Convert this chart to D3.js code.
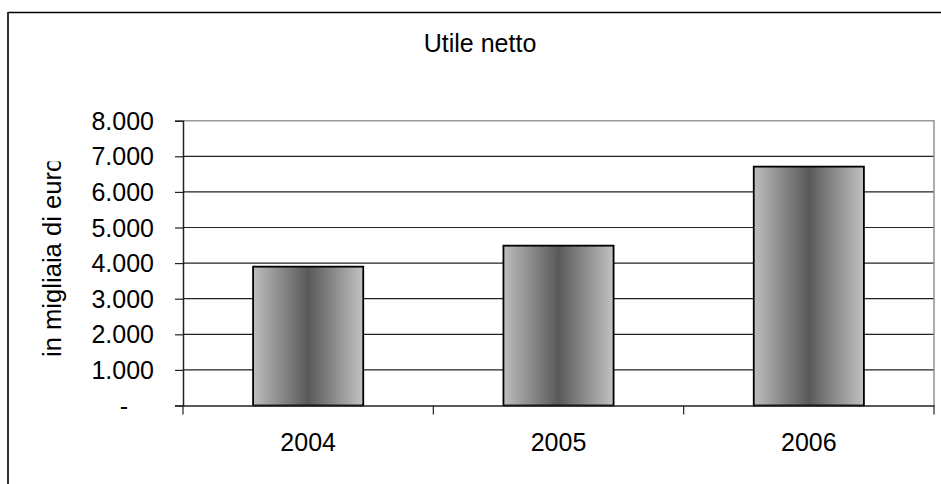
<!DOCTYPE html>
<html>
<head>
<meta charset="utf-8">
<script src="https://cdn.jsdelivr.net/npm/d3@7"></script>
<style>
  body { margin: 0; background: #fff; }
  svg { display: block; }
  text { font-family: "Liberation Sans", Arial, sans-serif; fill: #000; }
</style>
</head>
<body>
<svg id="chart" width="941" height="484"></svg>
<script>
// Net profit, thousands of euro
const years = ["2004", "2005", "2006"];
const utileNetto = [3900, 4490, 6710];
const yTicks = [0, 1000, 2000, 3000, 4000, 5000, 6000, 7000, 8000];
const titleText = "Utile netto";
const yAxisTitle = "in migliaia di euro";

const data = years.map((y, i) => ({ year: y, value: utileNetto[i] }));

const svg = d3.select("#chart");
const W = 941, H = 484;
const plot = { left: 183, right: 934, top: 120.7, bottom: 405.5 };
const fontPx = "25px";

// Italian number formatting: thousands separated by "."
const it = d3.formatLocale({ decimal: ",", thousands: ".", grouping: [3], currency: ["€", ""] });
const fmt = it.format(",.0f");

const x = d3.scaleBand().domain(years).range([plot.left, plot.right]).paddingInner(0).paddingOuter(0);
const y = d3.scaleLinear().domain([0, 8000]).range([plot.bottom, plot.top]);

// Bar fill: light edges, dark middle
const defs = svg.append("defs");
const grad = defs.append("linearGradient").attr("id", "barFill")
  .attr("x1", "0").attr("x2", "1").attr("y1", "0").attr("y2", "0");
[["0", "#bdbdbd"], ["0.5", "#595959"], ["1", "#c2c2c2"]].forEach(([o, c]) =>
  grad.append("stop").attr("offset", o).attr("stop-color", c));

defs.append("clipPath").attr("id", "yTitleClip")
  .append("rect").attr("x", 0).attr("y", 161.5).attr("width", 120).attr("height", 300);

// Outer chart frame (extends past the right and bottom edges)
svg.append("line").attr("x1", 8).attr("x2", W + 5).attr("y1", 12.5).attr("y2", 12.5)
  .attr("stroke", "#000").attr("stroke-width", 1.5);
svg.append("line").attr("x1", 8).attr("x2", 8).attr("y1", 12).attr("y2", H + 5)
  .attr("stroke", "#333").attr("stroke-width", 2);

// Title
svg.append("text").attr("x", 480).attr("y", 52).attr("text-anchor", "middle")
  .style("font-size", fontPx).text(titleText);

// Y axis title (rotated, trimmed at the top)
svg.append("g").attr("clip-path", "url(#yTitleClip)")
  .append("text")
  .attr("transform", "translate(61,357) rotate(-90)")
  .attr("text-anchor", "start")
  .style("font-size", "25.6px")
  .text(yAxisTitle);

// Gridlines
svg.append("g").selectAll("line").data(yTicks.filter(t => t > 0 && t < 8000)).join("line")
  .attr("x1", plot.left).attr("x2", plot.right)
  .attr("y1", d => y(d)).attr("y2", d => y(d))
  .attr("stroke", "#222").attr("stroke-width", 1.2);

// Plot area border (top and right)
svg.append("path")
  .attr("d", `M${plot.left},${y(8000)}H${plot.right}V${plot.bottom}`)
  .attr("fill", "none").attr("stroke", "#999").attr("stroke-width", 1.6);

// Bars
svg.append("g").selectAll("rect").data(data).join("rect")
  .attr("x", d => x(d.year) + x.bandwidth() * 0.28)
  .attr("width", x.bandwidth() * 0.44)
  .attr("y", d => y(d.value))
  .attr("height", d => y(0) - y(d.value))
  .attr("fill", "url(#barFill)")
  .attr("stroke", "#000").attr("stroke-width", 1.8);

// Y axis
const yAxis = svg.append("g").attr("transform", `translate(${plot.left},0)`)
  .call(d3.axisLeft(y).tickValues(yTicks).tickSize(8).tickPadding(21)
    .tickFormat(d => d === 0 ? "-" : fmt(d)));
yAxis.select(".domain").attr("stroke", "#222").attr("stroke-width", 1.5);
yAxis.selectAll(".tick line").attr("stroke", "#222").attr("stroke-width", 1.2);
yAxis.selectAll(".tick text").style("font-size", fontPx).attr("fill", "#000")
  .attr("dy", "0.34em");
yAxis.selectAll(".tick text").filter(d => d === 0).attr("dx", -26);

// X axis
const xAxis = svg.append("g").attr("transform", `translate(0,${plot.bottom})`)
  .call(d3.axisBottom(x).tickSize(0).tickPadding(28));
xAxis.select(".domain").attr("stroke", "#222").attr("stroke-width", 1.5);
xAxis.selectAll(".tick text").style("font-size", fontPx).attr("fill", "#000");

// Category boundary ticks
const bounds = years.map(d => x(d)).concat([x(years[years.length - 1]) + x.bandwidth()]);
svg.append("g").selectAll("line").data(bounds).join("line")
  .attr("x1", d => d).attr("x2", d => d)
  .attr("y1", plot.bottom).attr("y2", plot.bottom + 9)
  .attr("stroke", "#222").attr("stroke-width", 1.2);
</script>
</body>
</html>
